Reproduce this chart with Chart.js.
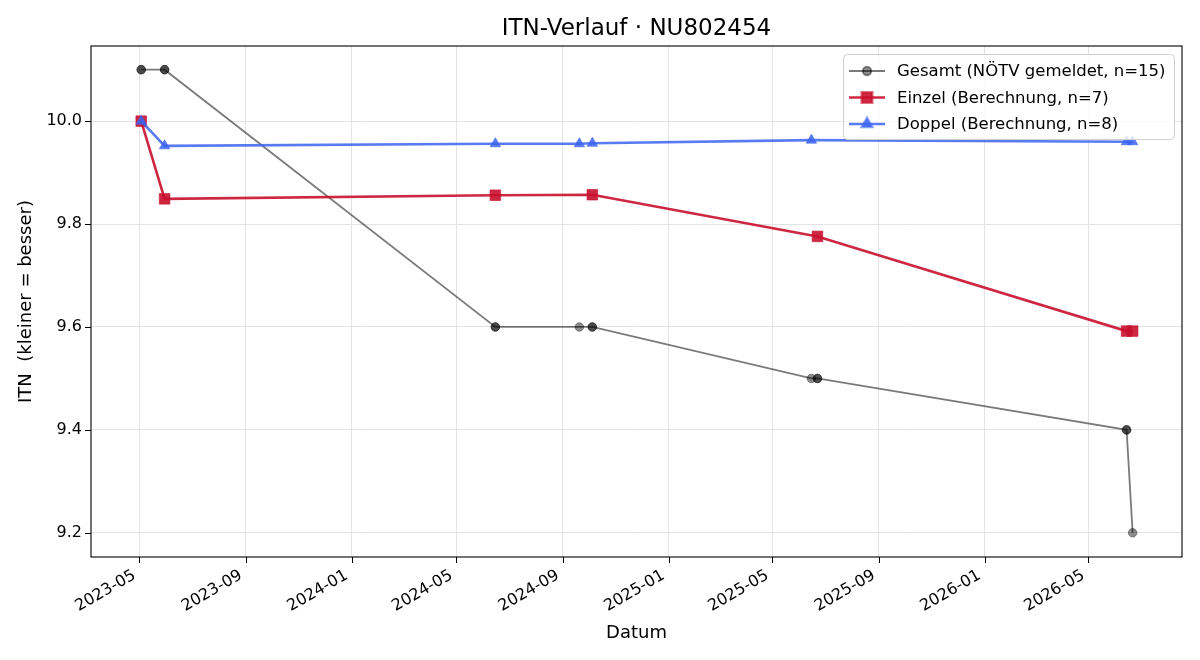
<!DOCTYPE html>
<html>
<head>
<meta charset="utf-8">
<script src="https://cdn.jsdelivr.net/npm/chart.js@4.4.1/dist/chart.umd.min.js"></script>
<style>
  html, body { margin: 0; background: #fff; }
</style>
</head>
<body>
<canvas id="itnChart" width="1200" height="660"></canvas>
<script>
// Gesamt (NÖTV gemeldet) - 15 Einträge, einige fallen aufeinander
const gesamtDates = ['2023-05-03', '2023-05-03', '2023-05-30', '2023-05-30', '2024-06-15', '2024-06-15',
  '2024-09-20', '2024-10-05', '2024-10-05', '2025-06-15', '2025-06-22', '2025-06-22',
  '2026-06-14', '2026-06-14', '2026-06-21'];
const gesamtValues = [10.1, 10.1, 10.1, 10.1, 9.6, 9.6, 9.6, 9.6, 9.6, 9.5, 9.5, 9.5, 9.4, 9.4, 9.2];

const einzelDates = ['2023-05-03', '2023-05-30', '2024-06-15', '2024-10-05', '2025-06-22', '2026-06-14', '2026-06-21'];
const einzelValues = [10.0, 9.849, 9.856, 9.857, 9.776, 9.592, 9.592];

const doppelDates = ['2023-05-03', '2023-05-30', '2024-06-15', '2024-09-20', '2024-10-05', '2025-06-15', '2026-06-14', '2026-06-21'];
const doppelValues = [10.0, 9.952, 9.956, 9.956, 9.957, 9.963, 9.960, 9.960];

const xTickLabels = ['2023-05', '2023-09', '2024-01', '2024-05', '2024-09', '2025-01', '2025-05', '2025-09', '2026-01', '2026-05'];
const yTickValues = [9.2, 9.4, 9.6, 9.8, 10.0];

const FONT = "'DejaVu Sans', sans-serif";

function toTime(s) {
  return new Date(s + 'T00:00:00Z').getTime();
}

function toPoints(dates, values) {
  return dates.map((d, i) => ({ x: toTime(d), y: values[i] }));
}

function fmtMonth(v) {
  const d = new Date(v);
  return d.getUTCFullYear() + '-' + String(d.getUTCMonth() + 1).padStart(2, '0');
}

const frame = {
  id: 'frame',
  afterDraw(chart) {
    const ctx = chart.ctx;
    const a = chart.chartArea;
    const xs = chart.scales.x, ys = chart.scales.y;
    ctx.save();

    // Rahmen
    ctx.strokeStyle = '#000';
    ctx.lineWidth = 1.1;
    ctx.strokeRect(a.left, a.top, a.right - a.left, a.bottom - a.top);

    // Tick-Striche
    ctx.lineWidth = 1;
    ctx.beginPath();
    xs.ticks.forEach(t => {
      const px = Math.round(xs.getPixelForValue(t.value)) + 0.5;
      ctx.moveTo(px, a.bottom);
      ctx.lineTo(px, a.bottom + 6);
    });
    ys.ticks.forEach(t => {
      const py = Math.round(ys.getPixelForValue(t.value)) + 0.5;
      ctx.moveTo(a.left, py);
      ctx.lineTo(a.left - 6, py);
    });
    ctx.stroke();

    // Titel und Achsenbeschriftung
    ctx.fillStyle = '#000';
    ctx.textAlign = 'center';
    ctx.textBaseline = 'middle';
    ctx.font = '23px ' + FONT;
    ctx.fillText('ITN-Verlauf · NU802454', (a.left + a.right) / 2, 29);
    ctx.font = '18px ' + FONT;
    ctx.fillText('Datum', (a.left + a.right) / 2, 633);
    ctx.save();
    ctx.translate(26, (a.top + a.bottom) / 2);
    ctx.rotate(-Math.PI / 2);
    ctx.fillText('ITN  (kleiner = besser)', 0, 0);
    ctx.restore();

    // Legende
    const bx = 843, by = 54, bw = 331, bh = 85;
    ctx.beginPath();
    ctx.roundRect(bx + 0.5, by + 0.5, bw, bh, 4);
    ctx.fillStyle = 'rgba(255,255,255,0.8)';
    ctx.fill();
    ctx.strokeStyle = '#d0d0d0';
    ctx.lineWidth = 1;
    ctx.stroke();

    ctx.textAlign = 'left';
    ctx.font = '16.5px ' + FONT;
    chart.data.datasets.forEach((ds, i) => {
      const y = 71 + i * 26.5;
      ctx.strokeStyle = ds.borderColor;
      ctx.lineWidth = ds.borderWidth;
      ctx.beginPath();
      ctx.moveTo(849, y);
      ctx.lineTo(885, y);
      ctx.stroke();
      ctx.fillStyle = ds.pointBackgroundColor;
      ctx.strokeStyle = ds.pointBorderColor;
      Chart.helpers.drawPoint(ctx, {
        pointStyle: ds.pointStyle, radius: ds.pointRadius, rotation: 0, borderWidth: 1
      }, 867, y);
      ctx.fillStyle = '#000';
      ctx.fillText(ds.label, 897, y + 1);
    });
    ctx.restore();
  }
};

new Chart('itnChart', {
  type: 'line',
  data: {
    datasets: [
      {
        label: 'Gesamt (NÖTV gemeldet, n=15)',
        data: toPoints(gesamtDates, gesamtValues),
        borderColor: 'rgba(0,0,0,0.52)',
        borderWidth: 1.8,
        pointStyle: 'circle',
        pointRadius: 4.3,
        pointBackgroundColor: 'rgba(0,0,0,0.45)',
        pointBorderColor: 'rgba(0,0,0,0.45)',
        pointBorderWidth: 0.8,
        order: 3
      },
      {
        label: 'Einzel (Berechnung, n=7)',
        data: toPoints(einzelDates, einzelValues),
        borderColor: 'rgba(200,16,46,0.9)',
        borderWidth: 2.6,
        pointStyle: 'rect',
        pointRadius: 7.5,
        pointBackgroundColor: 'rgba(200,16,46,0.9)',
        pointBorderColor: 'rgba(200,16,46,0.6)',
        pointBorderWidth: 1,
        order: 2
      },
      {
        label: 'Doppel (Berechnung, n=8)',
        data: toPoints(doppelDates, doppelValues),
        borderColor: 'rgba(60,100,240,0.85)',
        borderWidth: 2.6,
        pointStyle: 'triangle',
        pointRadius: 6,
        pointBackgroundColor: 'rgba(60,100,240,0.85)',
        pointBorderColor: 'rgba(60,100,240,0.6)',
        pointBorderWidth: 1,
        order: 1
      }
    ]
  },
  options: {
    responsive: false,
    animation: false,
    devicePixelRatio: 1,
    layout: { padding: { top: 46, right: 18, left: 0, bottom: 0 } },
    plugins: {
      legend: { display: false },
      tooltip: { enabled: false }
    },
    scales: {
      x: {
        type: 'linear',
        min: toTime('2023-03-06'),
        max: toTime('2026-08-17'),
        afterBuildTicks: (s) => {
          s.ticks = xTickLabels.map(l => ({ value: toTime(l + '-01') }));
        },
        afterFit: (s) => { s.height = 103; },
        grid: { color: '#e3e3e3', lineWidth: 1, drawTicks: false },
        border: { display: false },
        ticks: {
          minRotation: 30,
          maxRotation: 30,
          padding: 9,
          labelOffset: -5,
          color: '#000',
          font: { family: FONT, size: 16 },
          callback: (v) => fmtMonth(v)
        }
      },
      y: {
        min: 9.153,
        max: 10.146,
        afterBuildTicks: (s) => {
          s.ticks = yTickValues.map(v => ({ value: v }));
        },
        afterFit: (s) => { s.width = 91; },
        grid: { color: '#e3e3e3', lineWidth: 1, drawTicks: false },
        border: { display: false },
        ticks: {
          padding: 9,
          color: '#000',
          font: { family: FONT, size: 16 },
          callback: (v) => v.toFixed(1)
        }
      }
    }
  },
  plugins: [frame]
});
</script>
</body>
</html>
